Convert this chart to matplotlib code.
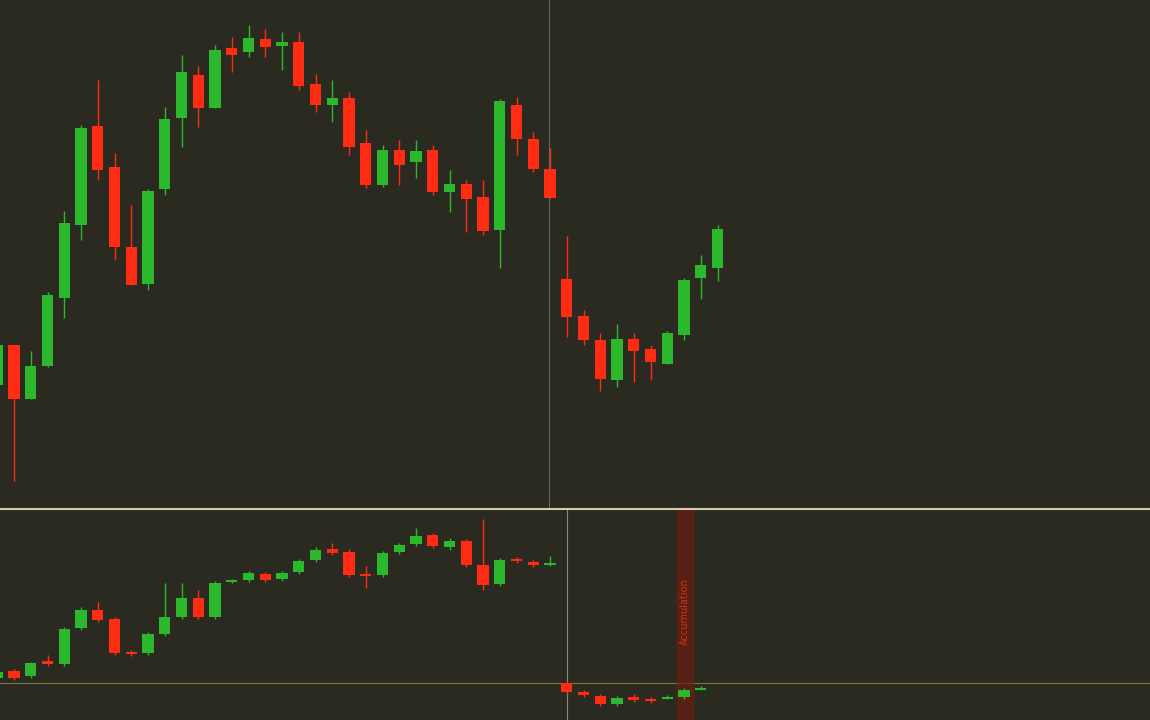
import numpy as np
import matplotlib.pyplot as plt
from matplotlib.patches import Rectangle

# price panel, values (screen units, larger = lower)
p_open  = [385, 345, 399, 366, 298, 225, 126, 167, 247, 284, 189, 118, 75, 108, 48, 52, 39, 46, 42, 84, 105, 98,
           143, 185, 150, 162, 150, 192, 184, 197, 230, 105, 139, 169, 279, 316, 340, 380, 339, 349, 364, 335, 278, 268]
p_close = [345, 399, 366, 295, 223, 128, 170, 247, 285, 191, 119, 72, 108, 50, 55, 38, 47, 42, 86, 105, 98, 147,
           185, 150, 165, 151, 192, 184, 199, 231, 101, 139, 169, 198, 317, 340, 379, 339, 351, 362, 333, 280, 265, 229]
p_high  = [343, 345, 351, 292, 211, 125, 80, 153, 205, 189, 107, 55, 66, 45, 37, 25, 29, 32, 32, 74, 80, 92,
           130, 145, 140, 140, 145, 170, 180, 180, 99, 97, 132, 148, 236, 310, 333, 324, 333, 345, 331, 278, 255, 225]
p_low   = [387, 481, 399, 367, 318, 240, 180, 260, 285, 290, 195, 147, 127, 108, 72, 57, 57, 70, 90, 112, 122, 155,
           188, 187, 185, 178, 195, 212, 232, 235, 268, 155, 172, 198, 337, 345, 391, 387, 382, 380, 364, 340, 299, 281]

# lower panel
o_open  = [678, 671, 676, 661, 664, 628, 610, 619, 652, 653, 634, 617, 598, 617, 581, 580, 574, 579, 572, 560, 549, 552,
           574, 575, 552, 544, 535, 547, 541, 565, 584, 559, 562, 564, 683, 692, 696, 704, 697, 699, 699, 697, 690]
o_close = [672, 678, 663, 664, 629, 610, 620, 653, 654, 634, 617, 598, 617, 583, 580, 573, 580, 573, 561, 550, 553, 575,
           576, 553, 545, 536, 546, 541, 565, 585, 560, 561, 565, 563, 692, 695, 704, 698, 700, 701, 697, 690, 688]
o_high  = [670, 669, 662, 655, 627, 607, 602, 617, 650, 632, 583, 583, 590, 581, 579, 571, 572, 571, 559, 547, 543, 549,
           566, 551, 543, 528, 533, 538, 539, 519, 558, 557, 560, 556, 682, 690, 694, 696, 694, 697, 695, 688, 686]
o_low   = [680, 680, 678, 666, 666, 630, 622, 655, 656, 655, 636, 619, 619, 619, 583, 582, 582, 581, 574, 562, 555, 577,
           588, 577, 554, 546, 548, 550, 567, 590, 586, 563, 567, 566, 694, 697, 706, 706, 702, 703, 699, 699, 690]

bg = '#2a2a20'
up = '#2cb82c'
down = '#ff2b12'
x0, step = -2.75, 16.75

fig = plt.figure(figsize=(11.5, 7.2), dpi=100, facecolor=bg)
ax_p = fig.add_axes([0, 1 - 509 / 720, 1, 509 / 720])
ax_o = fig.add_axes([0, 0, 1, 1 - 509 / 720])

def candles(ax, o, c, h, l):
    for i in range(len(o)):
        col = up if c[i] < o[i] else down
        ax.vlines(i, h[i], l[i], color=col, lw=1)
        top, bot = min(o[i], c[i]), max(o[i], c[i])
        ax.add_patch(Rectangle((i - 0.33, top), 0.66, max(bot - top, 1.5), color=col, lw=0))

candles(ax_p, p_open, p_close, p_high, p_low)
candles(ax_o, o_open, o_close, o_high, o_low)

xl = (-x0 / step, (1150 - x0) / step)
for ax, yl in ((ax_p, (509, 0)), (ax_o, (720, 509))):
    ax.set_facecolor(bg)
    ax.set_xlim(*xl)
    ax.set_ylim(*yl)
    ax.axis('off')

ax_p.axvline((549 - x0) / step, color='#6a6a5a', lw=0.8, zorder=0)
ax_o.axvline((567 - x0) / step, color='#8a8a7a', lw=0.8, zorder=0)
ax_o.axhline(683, color='#7a7a40', lw=0.8, zorder=0)
ax_o.axvspan((677 - x0) / step, (693 - x0) / step, color='#6a1e10', alpha=0.7, zorder=0)
ax_o.text((685 - x0) / step, 612, 'Accumulation', rotation=90, color='#e02a10',
          fontsize=7, ha='center', va='center')
fig.add_artist(plt.Line2D([0, 1], [1 - 509 / 720] * 2, color='#d0d0b0', lw=1.5))

fig.savefig('out.png', dpi=100, facecolor=bg)
